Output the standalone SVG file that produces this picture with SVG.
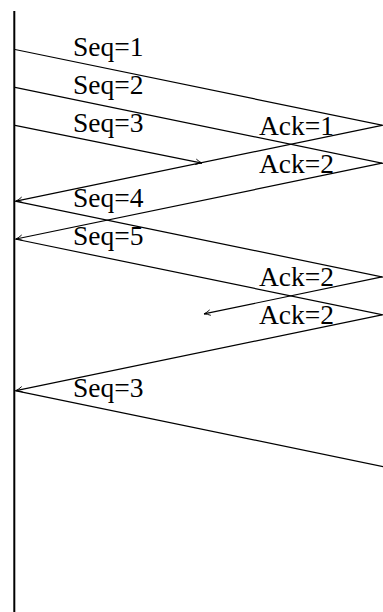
<svg xmlns="http://www.w3.org/2000/svg" width="383" height="612" viewBox="0 0 383 612">
<style>
.msg{stroke:#000;stroke-width:1.2;fill:none;marker-end:url(#arr)}
.lbl{font-family:"Liberation Serif","Times New Roman",serif;font-size:27.5px;fill:#000}
</style>
<defs>
<marker id="arr" viewBox="0 0 10 10" refX="9" refY="5" markerWidth="8" markerHeight="8" markerUnits="userSpaceOnUse" orient="auto">
<path d="M1,1.5 Q5,4 9,5 Q5,6 1,8.5" fill="none" stroke="#000" stroke-width="1.1"/>
</marker>
</defs>
<rect width="383" height="612" fill="#fff"/>
<g id="timeline">
<line x1="14.3" y1="11" x2="14.3" y2="612" stroke="#000" stroke-width="2"/>
</g>
<g id="connectors">
<line class="msg" x1="15" y1="49.5" x2="393" y2="127.5"/>
<line class="msg" x1="15" y1="87.4" x2="393" y2="165.4"/>
<line class="msg" x1="15" y1="125.3" x2="202" y2="163.1"/>
<line class="msg" x1="382" y1="125.3" x2="16" y2="201.1"/>
<line class="msg" x1="382" y1="163.2" x2="16" y2="239"/>
<line class="msg" x1="15" y1="201.1" x2="393" y2="279.1"/>
<line class="msg" x1="15" y1="239" x2="393" y2="317"/>
<line class="msg" x1="382" y1="276.9" x2="204" y2="313.9"/>
<line class="msg" x1="382" y1="314.8" x2="16" y2="390.6"/>
<line class="msg" x1="15" y1="390.6" x2="393" y2="468.6"/>
</g>
<g id="labels">
<text class="lbl" x="73" y="56">Seq=1</text>
<text class="lbl" x="73" y="94">Seq=2</text>
<text class="lbl" x="73" y="131.8">Seq=3</text>
<text class="lbl" x="259" y="135">Ack=1</text>
<text class="lbl" x="259" y="172.8">Ack=2</text>
<text class="lbl" x="73" y="207">Seq=4</text>
<text class="lbl" x="73" y="245">Seq=5</text>
<text class="lbl" x="259" y="286">Ack=2</text>
<text class="lbl" x="259" y="324">Ack=2</text>
<text class="lbl" x="73" y="396.5">Seq=3</text>
</g>
</svg>
